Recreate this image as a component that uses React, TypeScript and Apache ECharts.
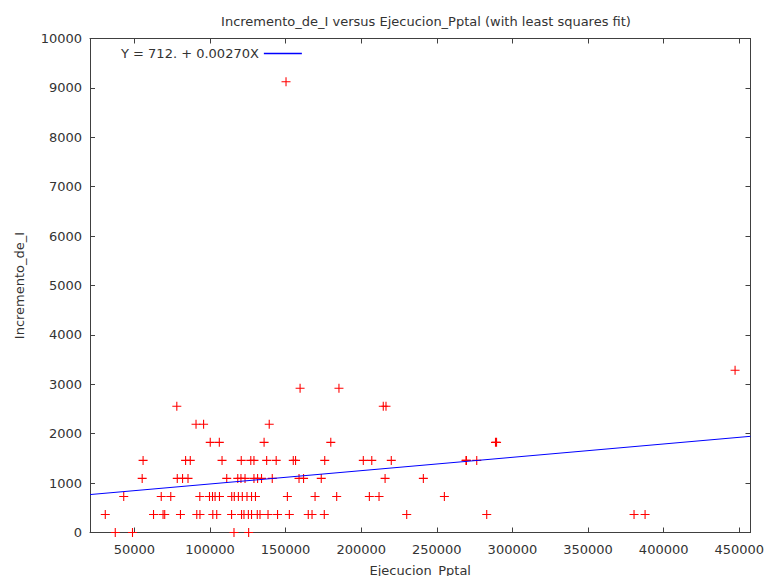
import React, { useEffect, useRef } from "react";
import * as echarts from "echarts";

// Axis ranges and ticks
const X_MIN = 20700;
const X_MAX = 457400;
const xTickValues = [50000, 100000, 150000, 200000, 250000, 300000, 350000, 400000, 450000];
const Y_MIN = 0;
const Y_MAX = 10000;
const Y_INTERVAL = 1000;

// Least squares fit
const fitIntercept = 712;
const fitSlope = 0.0027;
const fitLabel = "Y = 712. + 0.00270X";

// Incremento_de_I levels (observed values) and the Ejecucion_Pptal values at each level
const incrementoLevels = [0, 365, 730, 1095, 1460, 1825, 2190, 2555, 2920, 3285, 9125];
const ejecucionAt0 = [37400, 48800, 115900, 125600];
const ejecucionAt365 = [30800, 62700, 69000, 70100, 80500, 91300, 93400, 101900, 104500, 114300, 120900, 122500, 125400, 127500, 131300, 133100, 138400, 144700, 152500, 165000, 167500, 175600, 230100, 283000, 380400, 387700];
const ejecucionAt730 = [43000, 67800, 74100, 93300, 99700, 101700, 103400, 106300, 114400, 116100, 118800, 121400, 124500, 127500, 130100, 151200, 169500, 183800, 205400, 211800, 255000];
const ejecucionAt1095 = [55200, 78400, 81900, 85500, 111100, 118400, 120500, 123200, 129100, 131500, 134100, 141200, 158900, 161900, 173600, 215800, 241100];
const ejecucionAt1460 = [55800, 83900, 87000, 108000, 120700, 127000, 129100, 137500, 143800, 155100, 156600, 175900, 201400, 207000, 219900, 269300, 269600, 276400];
const ejecucionAt1825 = [100200, 106200, 135800, 179900, 288800, 289500];
const ejecucionAt2190 = [90800, 95800, 139200];
const ejecucionAt2555 = [78100, 214600, 216400];
const ejecucionAt2920 = [159600, 185300];
const ejecucionAt3285 = [447200];
const ejecucionAt9125 = [150300];

const ejecucionByLevel = [
  ejecucionAt0,
  ejecucionAt365,
  ejecucionAt730,
  ejecucionAt1095,
  ejecucionAt1460,
  ejecucionAt1825,
  ejecucionAt2190,
  ejecucionAt2555,
  ejecucionAt2920,
  ejecucionAt3285,
  ejecucionAt9125,
];

const PLUS = "path://M0,4.4H10V5.6H0Z M4.4,0H5.6V10H4.4Z";

export default function App() {
  const ref = useRef<HTMLDivElement>(null);

  useEffect(() => {
    if (!ref.current) return;
    const chart = echarts.init(ref.current, null, { renderer: "svg" });

    const points: number[][] = [];
    ejecucionByLevel.forEach((xs, i) => {
      xs.forEach((x) => points.push([x, incrementoLevels[i]]));
    });
    const fitLine = [
      [X_MIN, fitIntercept + fitSlope * X_MIN],
      [X_MAX, fitIntercept + fitSlope * X_MAX],
    ];

    const font = "DejaVu Sans";
    const fontSize = 13;
    const textColor = "#333";
    const axisColor = "#404040";
    const fitColor = "#0000ff";
    const lineStyle = { color: axisColor, width: 1 };
    const plain = (v: number) => String(v);

    chart.setOption({
      animation: false,
      backgroundColor: "#ffffff",
      title: {
        text: "Incremento_de_I versus Ejecucion_Pptal (with least squares fit)",
        left: 421,
        top: 10,
        textAlign: "center",
        textStyle: { fontSize, fontWeight: "normal", color: textColor, fontFamily: font },
      },
      legend: {
        data: [{ name: fitLabel, icon: "rect", itemStyle: { color: fitColor, borderWidth: 0 } }],
        left: 116,
        top: 42,
        align: "right",
        itemWidth: 38,
        itemHeight: 1.5,
        textStyle: { fontSize, color: textColor, fontFamily: font },
      },
      grid: { left: 90, right: 14.5, top: 38.5, bottom: 43.5, outerBoundsMode: "none", containLabel: false },
      xAxis: [
        {
          type: "value",
          position: "bottom",
          min: X_MIN,
          max: X_MAX,
          name: "Ejecucion_Pptal",
          nameLocation: "middle",
          nameGap: 31,
          nameTextStyle: { fontSize, color: textColor, fontFamily: font },
          axisLine: { show: true, onZero: false, lineStyle },
          axisTick: { show: true, inside: true, length: 5, customValues: xTickValues, lineStyle },
          axisLabel: { customValues: xTickValues, margin: 10, fontSize, color: textColor, fontFamily: font, formatter: plain },
          splitLine: { show: false },
        },
        {
          type: "value",
          position: "top",
          min: X_MIN,
          max: X_MAX,
          axisLine: { show: true, onZero: false, lineStyle },
          axisTick: { show: true, inside: true, length: 5, customValues: xTickValues, lineStyle },
          axisLabel: { show: false },
          splitLine: { show: false },
        },
      ],
      yAxis: [
        {
          type: "value",
          position: "left",
          min: Y_MIN,
          max: Y_MAX,
          interval: Y_INTERVAL,
          name: "Incremento_de_I",
          nameLocation: "middle",
          nameGap: 64,
          nameRotate: 90,
          nameTextStyle: { fontSize, color: textColor, fontFamily: font },
          axisLine: { show: true, onZero: false, lineStyle },
          axisTick: { show: true, inside: true, length: 5, lineStyle },
          axisLabel: { margin: 8, fontSize, color: textColor, fontFamily: font, formatter: plain },
          splitLine: { show: false },
        },
        {
          type: "value",
          position: "right",
          min: Y_MIN,
          max: Y_MAX,
          interval: Y_INTERVAL,
          axisLine: { show: true, onZero: false, lineStyle },
          axisTick: { show: true, inside: true, length: 5, lineStyle },
          axisLabel: { show: false },
          splitLine: { show: false },
        },
      ],
      series: [
        {
          type: "scatter",
          name: "data",
          xAxisIndex: 0,
          yAxisIndex: 0,
          data: points,
          symbol: PLUS,
          symbolSize: 9,
          itemStyle: { color: "#ff0000", opacity: 1 },
          clip: false,
          z: 2,
        },
        {
          type: "line",
          name: fitLabel,
          xAxisIndex: 0,
          yAxisIndex: 0,
          data: fitLine,
          symbol: "none",
          showSymbol: false,
          color: fitColor,
          lineStyle: { color: fitColor, width: 1 },
          itemStyle: { color: fitColor },
          z: 3,
        },
      ],
    });

    return () => chart.dispose();
  }, []);

  return (
    <div
      ref={ref}
      style={{ position: "fixed", left: 0, top: 0, width: 765, height: 576, background: "#fff" }}
    />
  );
}
